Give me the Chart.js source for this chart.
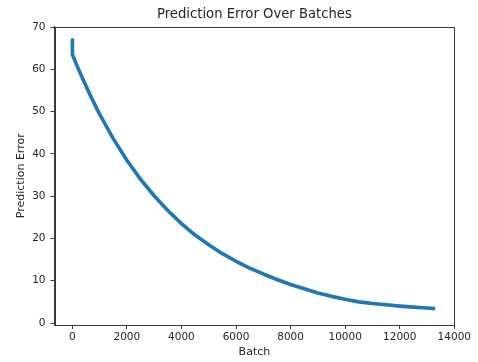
<!DOCTYPE html>
<html>
<head>
<meta charset="utf-8">
<script src="https://cdn.jsdelivr.net/npm/chart.js@4/dist/chart.umd.min.js"></script>
<style>
  html, body { margin: 0; padding: 0; background: #ffffff; }
  #wrap { width: 478px; height: 362px; }
</style>
</head>
<body>
<div id="wrap"><canvas id="c" width="478" height="362"></canvas></div>
<script>
// ---- data ----
const batches = [0, 5, 200, 400, 700, 1000, 1500, 2000, 2500, 3000, 3500, 4000, 4500, 5000, 5500, 6000, 6500,
                 7000, 7500, 8000, 8500, 9000, 9500, 10000, 10500, 11000, 11500, 12000, 12500, 13000, 13300];
const errors  = [67.0, 63.5, 60.4, 57.5, 53.3, 49.4, 43.6, 38.5, 34.0, 30.1, 26.6, 23.5, 20.8, 18.5, 16.4, 14.6, 13.0,
                 11.6, 10.3, 9.1, 8.1, 7.1, 6.3, 5.6, 5.0, 4.6, 4.3, 4.0, 3.75, 3.55, 3.4];
const xTicks = [0, 2000, 4000, 6000, 8000, 10000, 12000, 14000];
const yTicks = [0, 10, 20, 30, 40, 50, 60, 70];
const titleText = 'Prediction Error Over Batches';
const xLabel = 'Batch';
const yLabel = 'Prediction Error';

const points = batches.map((b, i) => ({ x: b, y: errors[i] }));

const frame = {
  id: 'frame',
  afterDraw(chart) {
    const a = chart.chartArea, ctx = chart.ctx;
    ctx.save();
    ctx.strokeStyle = '#3a3a3a';
    ctx.lineWidth = 1;
    ctx.strokeRect(Math.round(a.left) + 0.5, Math.round(a.top) + 0.5,
                   Math.round(a.right - a.left) - 1, Math.round(a.bottom - a.top) - 1);
    ctx.restore();
  }
};

const tickFont = { family: 'DejaVu Sans', size: 10.5 };
const labelFont = { family: 'DejaVu Sans', size: 11 };
const txt = '#262626';
const axisCol = '#3a3a3a';
const X_MIN = -652, X_MAX = 14000;

new Chart(document.getElementById('c'), {
  type: 'line',
  data: {
    datasets: [{
      data: points,
      borderColor: '#1f77b4',
      backgroundColor: '#1f77b4',
      borderWidth: 3.6,
      pointRadius: 0,
      tension: 0,
      borderJoinStyle: 'round',
      fill: false
    }]
  },
  options: {
    responsive: false,
    animation: false,
    devicePixelRatio: 1,
    layout: { padding: { left: 0, right: 23.7, top: 0, bottom: 0 } },
    plugins: {
      legend: { display: false },
      tooltip: { enabled: false },
      title: { display: false }
    },
    scales: {
      xTop: {
        type: 'linear',
        position: 'top',
        min: X_MIN,
        max: X_MAX,
        afterFit(s) { s.height = 26.5; },
        ticks: { display: false },
        grid: { display: false },
        border: { display: false },
        title: { display: true, text: titleText, color: txt,
                 font: { family: 'DejaVu Sans', size: 13.2, weight: 'normal' },
                 padding: { top: 6.8, bottom: 0 } }
      },
      x: {
        type: 'linear',
        position: 'bottom',
        min: X_MIN,
        max: X_MAX,
        afterFit(s) { s.height = 37; },
        afterBuildTicks(s) { s.ticks = xTicks.map(v => ({ value: v })); },
        ticks: { color: txt, font: tickFont, padding: 2, maxRotation: 0, autoSkip: false,
                 callback: v => String(v) },
        grid: { display: true, drawOnChartArea: false, drawTicks: true, tickLength: 4, tickColor: axisCol, color: axisCol },
        border: { display: true, color: axisCol, width: 1 },
        title: { display: true, text: xLabel, color: txt, font: labelFont, padding: { top: 0, bottom: 3.4 } }
      },
      y: {
        type: 'linear',
        min: -0.47,
        max: 70.12,
        afterFit(s) { s.width = 54.5; },
        afterBuildTicks(s) { s.ticks = yTicks.map(v => ({ value: v })); },
        ticks: { color: txt, font: tickFont, padding: 5, autoSkip: false },
        grid: { display: true, drawOnChartArea: false, drawTicks: true, tickLength: 4, tickColor: axisCol, color: axisCol },
        border: { display: true, color: axisCol, width: 1 },
        title: { display: true, text: yLabel, color: txt, font: labelFont, padding: { top: 14.2, bottom: 0 } }
      }
    }
  },
  plugins: [frame]
});
</script>
</body>
</html>
